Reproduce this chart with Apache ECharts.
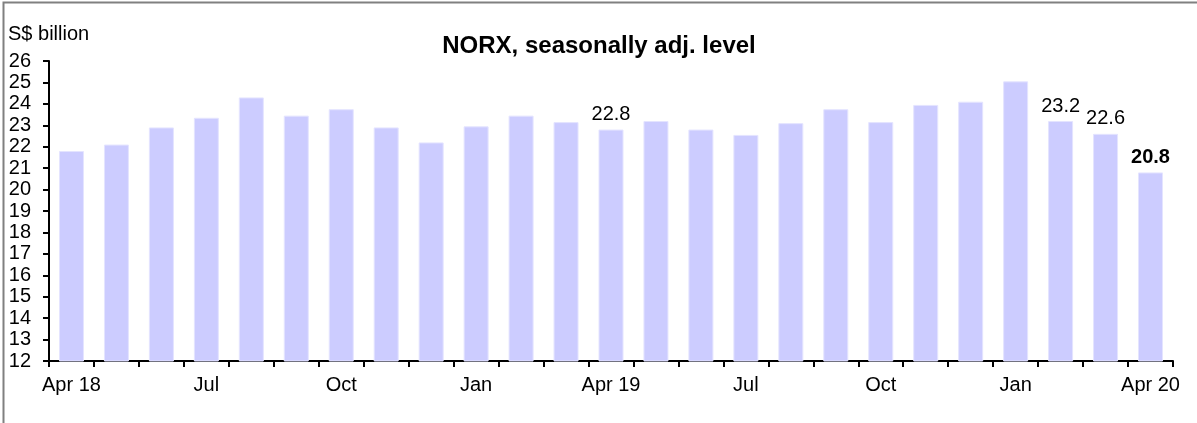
<!DOCTYPE html>
<html>
<head>
<meta charset="utf-8">
<script src="https://cdn.jsdelivr.net/npm/echarts@6/dist/echarts.min.js"></script>
<style>
html,body{margin:0;padding:0;background:#fff;}
#chart{width:1197px;height:423px;}
</style>
</head>
<body>
<div id="chart"></div>
<script>
const categories = ["Apr 18","May","Jun","Jul","Aug","Sep","Oct","Nov","Dec","Jan","Feb","Mar",
  "Apr 19","May","Jun","Jul","Aug","Sep","Oct","Nov","Dec","Jan","Feb","Mar","Apr 20"];
const shownLabels = ["Apr 18","Jul","Oct","Jan","Apr 19","Jul","Oct","Jan","Apr 20"];
const values = [21.8, 22.1, 22.9, 23.35, 24.3, 23.45, 23.75, 22.9, 22.2, 22.95, 23.45, 23.15,
  22.8, 23.2, 22.8, 22.55, 23.1, 23.75, 23.15, 23.95, 24.1, 25.05, 23.2, 22.6, 20.8];
const labelledIdx = [12, 22, 23];
const boldIdx = [24];
const yMin = 12, yMax = 26, yStep = 1;
const title = "NORX, seasonally adj. level";
const unit = "S$ billion";

const FONT = "Liberation Sans, Arial, sans-serif";
const seriesData = values.map((v, i) => {
  if (labelledIdx.includes(i) || boldIdx.includes(i)) {
    return { value: v, label: { show: true, position: 'top', distance: 5,
      fontFamily: FONT, fontSize: 20, color: '#000',
      fontWeight: boldIdx.includes(i) ? 'bold' : 'normal',
      formatter: p => p.value.toFixed(1) } };
  }
  return v;
});

const chart = echarts.init(document.getElementById('chart'), null, {renderer: 'canvas'});
chart.setOption({
  animation: false,
  backgroundColor: '#fff',
  graphic: [
    { type: 'rect', left: 1, top: 0, shape: { width: 1195, height: 440 },
      style: { fill: 'none', stroke: '#808080', lineWidth: 2 }, silent: true },
    { type: 'text', left: 8, top: 24, style: { text: unit, font: '20px ' + FONT, fill: '#000' } }
  ],
  title: {
    text: title, left: 594, top: 29, textAlign: 'center',
    textStyle: { fontFamily: FONT, fontSize: 24, fontWeight: 'bold', color: '#000' }
  },
  grid: { left: 49, right: 24, top: 61, bottom: 62, containLabel: false },
  xAxis: {
    type: 'category', data: categories,
    axisLine: { lineStyle: { color: '#000', width: 2 } },
    axisTick: { show: true, alignWithLabel: false, interval: 0, length: 6, lineStyle: { color: '#000', width: 2 } },
    axisLabel: {
      interval: 0, margin: 14, color: '#000', fontFamily: FONT, fontSize: 20,
      formatter: (v, i) => (i % 3 === 0 ? shownLabels[i / 3] : '')
    },
    splitLine: { show: false }
  },
  yAxis: {
    type: 'value', min: yMin, max: yMax, interval: yStep,
    axisLine: { show: true, lineStyle: { color: '#000', width: 2 } },
    axisTick: { show: true, length: 6, lineStyle: { color: '#000', width: 2 } },
    axisLabel: { margin: 18, color: '#000', fontFamily: FONT, fontSize: 20 },
    splitLine: { show: false }
  },
  series: [{
    type: 'bar', data: seriesData, barWidth: 25,
    itemStyle: { color: '#ccccff', borderColor: '#e4e4ff', borderWidth: 1 }
  }]
});
</script>
</body>
</html>
